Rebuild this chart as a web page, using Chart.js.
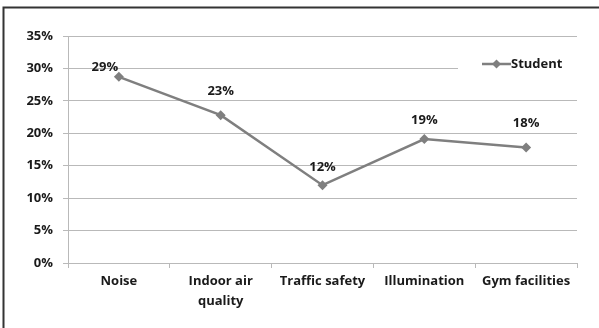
<!DOCTYPE html>
<html>
<head>
<meta charset="utf-8">
<script src="https://cdn.jsdelivr.net/npm/chart.js@4/dist/chart.umd.min.js"></script>
<style>
  html, body { margin: 0; padding: 0; background: #fff; }
  #wrap { width: 599px; height: 328px; position: relative; }
</style>
</head>
<body>
<div id="wrap"><canvas id="c" width="599" height="328"></canvas></div>
<script>
// Survey categories and the share of students naming each one
const categories = ['Noise', ['Indoor air', 'quality'], 'Traffic safety', 'Illumination', 'Gym facilities'];
const seriesName = 'Student';
const studentShare = [28.7, 22.8, 12.0, 19.1, 17.8];
const yTicks = [0, 5, 10, 15, 20, 25, 30, 35];

// Where each value label sits relative to its point (dx, dy)
const labelOffsets = [[-14, -10], [0, -24], [0, -18], [0, -19], [0, -24]];

const FONT = '"Open Sans", Lato, sans-serif';
const FSIZE = 13;
const TEXT = '#1a1a1a';
const LINE = '#7f7f7f';
const GRID = '#b9b9b9';

// White page with the dark frame at top and left
const framePlugin = {
  id: 'frame',
  beforeDraw(chart) {
    const ctx = chart.ctx;
    ctx.save();
    ctx.fillStyle = '#fff';
    ctx.fillRect(0, 0, chart.width, chart.height);
    ctx.strokeStyle = '#333';
    ctx.lineWidth = 2;
    ctx.beginPath();
    ctx.moveTo(chart.width, 7.5);
    ctx.lineTo(3.5, 7.5);
    ctx.lineTo(3.5, chart.height);
    ctx.stroke();
    ctx.restore();
  }
};

// Percentage labels above each point
const valueLabels = {
  id: 'valueLabels',
  afterDatasetsDraw(chart) {
    const ctx = chart.ctx;
    const meta = chart.getDatasetMeta(0);
    const values = chart.data.datasets[0].data;
    ctx.save();
    ctx.font = 'bold ' + FSIZE + 'px ' + FONT;
    ctx.fillStyle = TEXT;
    ctx.textAlign = 'center';
    ctx.textBaseline = 'middle';
    meta.data.forEach((pt, i) => {
      const off = labelOffsets[i] || [0, -20];
      ctx.fillText(Math.round(values[i]) + '%', pt.x + off[0], pt.y + off[1]);
    });
    ctx.restore();
  }
};

// Legend box sitting inside the plot, upper right
const insetLegend = {
  id: 'insetLegend',
  afterDatasetsDraw(chart) {
    const ctx = chart.ctx;
    const area = chart.chartArea;
    const ds = chart.data.datasets[0];
    const x0 = 458, y = 64;
    ctx.save();
    ctx.fillStyle = '#fff';
    ctx.fillRect(x0, y - 14, area.right - x0 + 1, 28);
    ctx.strokeStyle = ds.borderColor;
    ctx.lineWidth = 2.5;
    ctx.beginPath();
    ctx.moveTo(482, y);
    ctx.lineTo(511, y);
    ctx.stroke();
    ctx.fillStyle = ds.pointBackgroundColor;
    ctx.beginPath();
    ctx.moveTo(496.5, y - 4.5);
    ctx.lineTo(501, y);
    ctx.lineTo(496.5, y + 4.5);
    ctx.lineTo(492, y);
    ctx.closePath();
    ctx.fill();
    ctx.font = 'bold ' + FSIZE + 'px ' + FONT;
    ctx.fillStyle = TEXT;
    ctx.textAlign = 'left';
    ctx.textBaseline = 'middle';
    ctx.fillText(ds.label, 511, y);
    ctx.restore();
  }
};

new Chart(document.getElementById('c'), {
  type: 'line',
  data: {
    labels: categories,
    datasets: [{
      label: seriesName,
      data: studentShare,
      borderColor: LINE,
      backgroundColor: LINE,
      pointBackgroundColor: LINE,
      pointBorderColor: LINE,
      borderWidth: 2.5,
      pointStyle: 'rectRot',
      pointRadius: 5,
      pointBorderWidth: 0,
      tension: 0
    }]
  },
  options: {
    responsive: false,
    animation: false,
    devicePixelRatio: 1,
    layout: { padding: { top: 36, right: 22, left: 0, bottom: 0 } },
    plugins: {
      legend: { display: false },
      tooltip: { enabled: false }
    },
    scales: {
      x: {
        offset: true,
        grid: {
          offset: true,
          drawOnChartArea: false,
          drawTicks: true,
          tickLength: 5,
          color: GRID
        },
        border: { display: true, color: GRID, width: 1 },
        ticks: {
          color: TEXT,
          font: { family: FONT, size: FSIZE, weight: 'bold', lineHeight: 1.5 },
          padding: 4,
          maxRotation: 0,
          autoSkip: false
        },
        afterFit(scale) { scale.height = 65; }
      },
      y: {
        min: 0,
        max: 35,
        afterBuildTicks(scale) { scale.ticks = yTicks.map(v => ({ value: v })); },
        grid: {
          color: GRID,
          drawTicks: true,
          tickLength: 5,
          lineWidth: 1
        },
        border: { display: true, color: GRID, width: 1 },
        ticks: {
          color: TEXT,
          font: { family: FONT, size: FSIZE, weight: 'bold' },
          padding: 10,
          callback: v => v + '%'
        },
        afterFit(scale) { scale.width = 68; }
      }
    }
  },
  plugins: [framePlugin, valueLabels, insetLegend]
});
</script>
</body>
</html>
